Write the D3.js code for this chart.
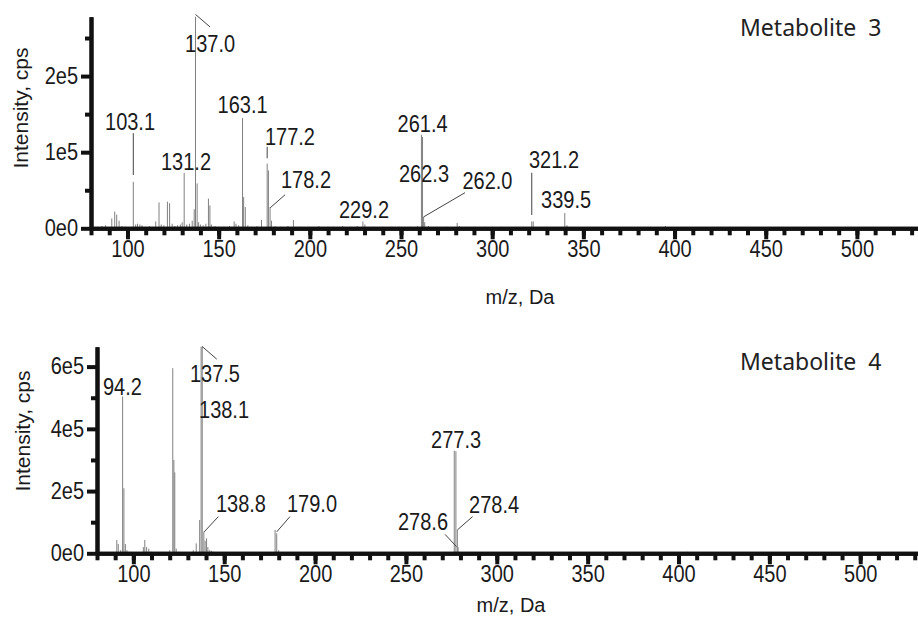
<!DOCTYPE html>
<html>
<head>
<meta charset="utf-8">
<script src="https://cdn.jsdelivr.net/npm/d3@7"></script>
<style>
  body { margin: 0; background: #fff; }
  svg { display: block; }
  text { font-family: "Liberation Sans", Arial, sans-serif; fill: #1a1a1a; }
</style>
</head>
<body>
<svg id="chart" width="918" height="617"></svg>
<script>
// ---- data ----
var xMajor = [100, 150, 200, 250, 300, 350, 400, 450, 500];
var xMinor = d3.range(80, 531, 10);

// Metabolite 3 (top)
var m3Ticks = [0, 100000, 200000];
var m3Minor = [50000, 150000, 250000];
var m3Mz = [84, 86, 88, 91.4, 93, 94.1, 95.4, 97, 99, 103.2, 104.5, 105.5, 106.8, 108, 110, 112, 114, 115.5, 117.3, 118.5,
  120, 121.9, 123.1, 124.5, 126, 127.5, 129, 130, 131.1, 132.5, 134, 135.5, 136.6, 137.3, 138.2, 139, 140, 141.5, 143, 144.4,
  145.2, 146, 148, 150, 153, 156, 158.5, 159.5, 161, 163.1, 163.7, 164.6, 166, 168, 171, 173.5, 176.6, 177.3, 178.2, 179,
  181, 184, 188, 191, 195, 200, 205, 210, 213, 218, 222, 226, 229.1, 230.2, 235, 240, 245, 249, 255, 259,
  261.2, 261.8, 262.4, 263, 265, 270, 275, 280.8, 282, 290, 296, 300, 305, 313, 321.7, 322.5, 330, 339.8, 341, 395];
var m3Int = [2000, 3000, 4000, 13000, 22000, 18000, 10000, 3000, 2000, 61000, 5000, 6000, 5000, 4000, 2000, 3000, 2000, 9000, 34000, 5000,
  4000, 35000, 33000, 6000, 3000, 4000, 5000, 8000, 73000, 5000, 6000, 10000, 25000, 290000, 59000, 8000, 5000, 4000, 6000, 39000,
  30000, 5000, 3000, 2000, 2000, 3000, 9000, 6000, 4000, 145000, 41000, 28000, 4000, 2000, 3000, 11000, 85000, 76000, 28000, 10000,
  3000, 2000, 3000, 11000, 2000, 2000, 3000, 2000, 2000, 3000, 2000, 3000, 9000, 5000, 2000, 2000, 2000, 2000, 2000, 3000,
  123000, 120000, 15000, 8000, 3000, 2000, 2000, 7000, 3000, 2000, 2000, 2000, 2000, 2000, 9000, 9000, 2000, 20000, 4000, 3000];
var m3Labels = ["103.1", "131.2", "137.0", "163.1", "177.2", "178.2", "229.2", "261.4", "262.3", "262.0", "321.2", "339.5"];
// label centre / baseline, in m/z and intensity units
var m3LabelAt = [[101.4, 129000], [132.1, 76600], [145.3, 232000], [163.1, 151000], [189.1, 109500], [197.9, 53000],
  [229.7, 13500], [261.8, 127000], [262.6, 61000], [297.4, 51600], [333.9, 79000], [340.5, 26700]];
var m3Leaders = [[[103.2, 125000], [103.2, 70000]], null, [[137.3, 281000], [145.3, 264500]], null,
  [[176.6, 107000], [176.6, 92000]], [[178.3, 27000], [186.4, 44000]], null, null, null,
  [[262.4, 15000], [285.1, 46800]], [[321.7, 73000], [321.7, 17500]], null];

// Metabolite 4 (bottom)
var m4Ticks = [0, 200000, 400000, 600000];
var m4Minor = [100000, 300000, 500000];
var m4Mz = [84, 86, 88, 90.9, 91.7, 93, 94.1, 94.8, 95.6, 96.5, 98, 100, 103, 105.5, 106.3, 107.3, 108.5, 110, 112, 115,
  118, 120, 121.7, 122.3, 122.8, 123.6, 125, 128, 131, 133, 134.6, 136.5, 137.3, 137.9, 138.8, 139.5, 140.3, 141, 142, 143,
  144, 145, 146, 148, 150, 155, 160, 165, 170, 175, 178.0, 178.9, 180, 183, 190, 195, 200, 205, 210, 215,
  220, 225, 230, 240, 250, 260, 270, 275, 276.6, 277.5, 278.3, 278.7, 280, 285, 292, 300, 310, 333, 404.7];
var m4Int = [2000, 2000, 3000, 43000, 30000, 10000, 504000, 209000, 30000, 10000, 5000, 3000, 3000, 20000, 43000, 20000, 15000, 5000, 3000, 2000,
  3000, 10000, 595000, 300000, 260000, 15000, 5000, 3000, 3000, 10000, 32000, 107000, 750000, 690000, 70000, 40000, 48000, 20000, 10000, 8000,
  5000, 4000, 3000, 3000, 2000, 2000, 3000, 2000, 2000, 3000, 75000, 64000, 10000, 2000, 2000, 2000, 2000, 2000, 2000, 2000,
  2000, 2000, 2000, 2000, 2000, 2000, 2000, 3000, 330000, 328000, 75000, 20000, 3000, 2000, 2000, 2000, 2000, 4000, 5000];
var m4Labels = ["94.2", "137.5", "138.1", "138.8", "179.0", "277.3", "278.4", "278.6"];
var m4LabelAt = [[94.0, 509000], [144.9, 552000], [149.9, 435000], [159.2, 134000], [198.3, 134000],
  [277.6, 338000], [298.5, 130000], [259.4, 75000]];
var m4Leaders = [null, [[137.8, 665000], [145.9, 624000]], null, [[139.0, 69000], [146.8, 118000]],
  [[178.9, 69000], [186.2, 118000]], null, [[278.3, 75000], [286.7, 118000]], [[271.5, 61000], [277.9, 21000]]];

// ---- drawing ----
var svg = d3.select("#chart");
var fmtY = d => d === 0 ? "0e0" : (d / 100000) + "e5";
var STRETCH = 1.15;   // the numbers in the source look a bit tall

// move x/y into a transform so the glyphs can be stretched vertically
function stretch(sel) {
    sel.each(function() {
        var t = d3.select(this),
            tx = +t.attr("x") || 0, ty = +t.attr("y") || 0;
        t.attr("x", 0).attr("y", 0)
            .attr("transform", "translate(" + tx + "," + ty + ") scale(1," + STRETCH + ")");
    });
}

function drawPanel(p) {
    var x = d3.scaleLinear().domain(p.xDomain).range(p.xRange),
        y = d3.scaleLinear().domain(p.yDomain).range(p.yRange);
    var g = svg.append("g");

    g.append("clipPath").attr("id", p.id + "clip").append("rect")
        .attr("x", p.xRange[0]).attr("y", p.yRange[1])
        .attr("width", p.xRange[1] - p.xRange[0]).attr("height", p.yRange[0] - p.yRange[1]);

    g.append("g").attr("clip-path", "url(#" + p.id + "clip)")
        .selectAll("line").data(d3.zip(p.mz, p.int)).enter().append("line")
        .attr("x1", d => x(d[0])).attr("x2", d => x(d[0]))
        .attr("y1", y(0)).attr("y2", d => y(d[1]))
        .style("stroke", "#808080").style("stroke-width", 1);

    g.append("g").selectAll("line").data(p.leaders.filter(d => d)).enter().append("line")
        .attr("x1", d => x(d[0][0])).attr("y1", d => y(d[0][1]))
        .attr("x2", d => x(d[1][0])).attr("y2", d => y(d[1][1]))
        .style("stroke", "#444").style("stroke-width", 1);

    g.append("g").selectAll("text").data(p.labels).enter().append("text")
        .attr("x", (d, i) => x(p.labelAt[i][0])).attr("y", (d, i) => y(p.labelAt[i][1]))
        .attr("text-anchor", "middle").style("font-size", "20px").text(d => d)
        .call(stretch);

    // x axis: minor then major ticks
    var xg = g.append("g").attr("transform", "translate(0," + y(0) + ")");
    xg.append("g").call(d3.axisBottom(x).tickValues(xMinor).tickSize(7).tickSizeOuter(0).tickFormat(""));
    xg.append("g").call(d3.axisBottom(x).tickValues(xMajor).tickSize(11).tickSizeOuter(0).tickPadding(1));

    var yg = g.append("g").attr("transform", "translate(" + p.xRange[0] + ",0)");
    yg.append("g").call(d3.axisLeft(y).tickValues(p.yMinor).tickSize(6).tickSizeOuter(0).tickFormat(""));
    yg.append("g").call(d3.axisLeft(y).tickValues(p.yTicks).tickSize(10).tickSizeOuter(0).tickPadding(3).tickFormat(fmtY));

    g.selectAll(".domain, .tick line").style("stroke", "#111").style("stroke-width", 4);
    g.selectAll(".tick text").style("font-size", "20px").style("fill", "#1a1a1a")
        .style("font-family", "'Liberation Sans', Arial, sans-serif")
        .call(stretch);

    g.append("text").attr("x", p.xTitle[0]).attr("y", p.xTitle[1]).attr("text-anchor", "middle")
        .style("font-size", "20px").text("m/z, Da");
    g.append("text").attr("transform", "translate(" + p.yTitle[0] + "," + p.yTitle[1] + ") rotate(-90)")
        .attr("text-anchor", "middle").style("font-size", "21px").text("Intensity, cps");
    g.append("text").attr("x", 740).attr("y", p.nameY)
        .style("font-family", "'Noto Sans', sans-serif").style("font-size", "23px")
        .style("fill", "#222").style("white-space", "pre").text(p.name);
}

drawPanel({id: "m3", name: "Metabolite  3", mz: m3Mz, int: m3Int, labels: m3Labels, labelAt: m3LabelAt, leaders: m3Leaders,
    yTicks: m3Ticks, yMinor: m3Minor, xDomain: [80, 533.5], xRange: [91, 918], yDomain: [0, 278000], yRange: [228.3, 16.7],
    xTitle: [520, 304], yTitle: [28, 108], nameY: 36});
drawPanel({id: "m4", name: "Metabolite  4", mz: m4Mz, int: m4Int, labels: m4Labels, labelAt: m4LabelAt, leaders: m4Leaders,
    yTicks: m4Ticks, yMinor: m4Minor, xDomain: [80, 531.8], xRange: [97, 918], yDomain: [0, 664000], yRange: [553.3, 346.7],
    xTitle: [511, 612], yTitle: [30, 431], nameY: 370});
</script>
</body>
</html>
